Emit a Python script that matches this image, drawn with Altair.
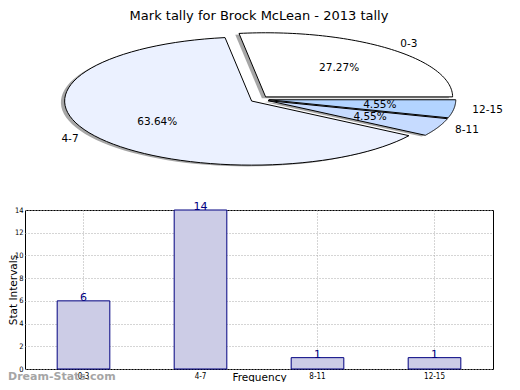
import altair as alt
import pandas as pd

# ---- data ----
categories = ["0-3", "4-7", "8-11", "12-15"]
counts = [6, 14, 1, 1]
order_idx = [0, 1, 2, 3]
pie_colors = ["#ffffff", "#ebf1ff", "#c6dbff", "#b3d4ff"]
y_ticks = [0, 2, 4, 6, 8, 10, 12, 14]
title_text = "Mark tally for Brock McLean - 2013 tally"
watermark = ["Dream-Stats.com"]

df = pd.DataFrame({"cat": categories, "count": counts, "idx": order_idx})

FONT = "DejaVu Sans"
NARROW = "Liberation Sans Narrow, DejaVu Sans Condensed, DejaVu Sans"
N = 72          # points along each arc
EXPLODE = 0.05
SHADOW = 0.02

# pie scales (ellipse: data-space unit circle stretched by the scales)
xs_pie = alt.Scale(domain=[-1.254, 1.2487], nice=False, zero=False)
ys_pie = alt.Scale(domain=[-4.2075, -1.727], nice=False, zero=False)

base = (
    alt.Chart(df)
    .transform_joinaggregate(total="sum(count)")
    .transform_window(cum="sum(count)", sort=[alt.SortField("idx")], frame=[None, 0])
    .transform_calculate(
        a0="2*PI*(datum.cum - datum.count)/datum.total",
        a1="2*PI*datum.cum/datum.total",
    )
    .transform_calculate(am="(datum.a0 + datum.a1)/2")
    .transform_calculate(
        ex=f"{EXPLODE}*cos(datum.am)",
        ey=f"{EXPLODE}*sin(datum.am)",
        pct="format(datum.count/datum.total, '.2%')",
    )
)

poly = (
    base.transform_calculate(k=f"sequence(0, {N + 3})")
    .transform_flatten(["k"])
    .transform_calculate(
        t=f"datum.a0 + (datum.a1 - datum.a0)*(datum.k - 1)/{N}",
        edge=f"(datum.k > 0 && datum.k < {N + 2}) ? 1 : 0",
    )
    .transform_calculate(
        px="datum.ex + datum.edge*cos(datum.t)",
        py="datum.ey + datum.edge*sin(datum.t)",
    )
)

shadow = poly.transform_calculate(
    sx=f"datum.px - {SHADOW}", sy=f"datum.py - {SHADOW}"
).mark_line(fill="#4d4d4d", fillOpacity=0.5, strokeOpacity=0, strokeWidth=0).encode(
    x=alt.X("sx:Q", scale=xs_pie, axis=None),
    y=alt.Y("sy:Q", scale=ys_pie, axis=None),
    order="k:Q",
    detail="cat:N",
)

slices = poly.mark_line(stroke="black", strokeWidth=1, strokeJoin="miter").encode(
    x=alt.X("px:Q", scale=xs_pie, axis=None),
    y=alt.Y("py:Q", scale=ys_pie, axis=None),
    order="k:Q",
    detail="cat:N",
    fill=alt.Fill("cat:N", scale=alt.Scale(domain=categories, range=pie_colors), legend=None),
)

pct = base.transform_calculate(
    lx="datum.ex + 0.6*cos(datum.am)", ly="datum.ey + 0.6*sin(datum.am)"
).mark_text(font=FONT, fontSize=10.5, color="black", baseline="middle", align="center").encode(
    x=alt.X("lx:Q", scale=xs_pie, axis=None),
    y=alt.Y("ly:Q", scale=ys_pie, axis=None),
    text="pct:N",
)

labs = base.transform_calculate(
    lx="datum.ex + 1.1*cos(datum.am)", ly="datum.ey + 1.1*sin(datum.am)", c="cos(datum.am)"
)
lab_r = labs.transform_filter("datum.c >= 0").mark_text(
    font=FONT, fontSize=10.5, color="black", baseline="middle", align="left"
).encode(
    x=alt.X("lx:Q", scale=xs_pie, axis=None),
    y=alt.Y("ly:Q", scale=ys_pie, axis=None),
    text="cat:N",
)
lab_l = labs.transform_filter("datum.c < 0").mark_text(
    font=FONT, fontSize=10.5, color="black", baseline="middle", align="right"
).encode(
    x=alt.X("lx:Q", scale=xs_pie, axis=None),
    y=alt.Y("ly:Q", scale=ys_pie, axis=None),
    text="cat:N",
)

pie = alt.layer(shadow, slices, pct, lab_r, lab_l)

# ---- bar chart ----
xband = alt.Scale(domain=categories, paddingInner=0.55, paddingOuter=0.275)
yscale = alt.Scale(domain=[0, 14], nice=False, zero=True)

bar_base = alt.Chart(df)
bars = bar_base.mark_bar(fill="#ccccE6", stroke="#000080", strokeWidth=1).encode(
    x=alt.X(
        "cat:N",
        scale=xband,
        sort=categories,
        axis=alt.Axis(
            title="Frequency",
            labelAngle=0,
            grid=True,
            gridDash=[1, 2],
            gridColor="#aaaaaa",
            ticks=False,
            tickSize=0,
            domain=False,
            labelFont=NARROW,
            labelFontSize=8,
            labelPadding=3,
            labelColor="black",
            labelOverlap=False,
            titleFont=FONT,
            titleFontSize=10.5,
            titleFontWeight="normal",
            titleColor="black",
            titleBaseline="alphabetic",
            titleX=234,
            titleY=11.5,
        ),
    ),
    y=alt.Y(
        "count:Q",
        scale=yscale,
        axis=alt.Axis(
            title="Stat Intervals",
            values=y_ticks,
            tickCount=len(y_ticks),
            grid=True,
            gridDash=[1, 2],
            gridColor="#aaaaaa",
            ticks=False,
            tickSize=0,
            domain=False,
            labelFont=NARROW,
            labelFontSize=7.5,
            labelPadding=2,
            labelColor="black",
            labelOverlap=False,
            titleFont=FONT,
            titleFontSize=10.5,
            titleFontWeight="normal",
            titleColor="black",
            titleAngle=270,
            titleBaseline="alphabetic",
            titleX=-8.8,
            titleY=79.5,
        ),
    ),
)
bar_text = bar_base.mark_text(
    font=FONT, fontSize=11, color="#000080", baseline="alphabetic", align="center"
).encode(
    x=alt.X("cat:N", scale=xband, sort=categories),
    y=alt.Y("count:Q", scale=yscale),
    text="count:Q",
)
wm = alt.Chart(pd.DataFrame({"w": watermark})).mark_text(
    font=FONT, fontSize=11, fontWeight="bold", color="#888888", opacity=0.75,
    align="left", baseline="middle",
).encode(x=alt.value(-17), y=alt.value(166.5), text="w:N")

bar = alt.layer(bars, bar_text, wm)

chart = (
    alt.layer(pie, bar)
    .resolve_scale(x="independent", y="independent", fill="independent")
    .resolve_axis(x="independent", y="independent")
    .properties(
        width=468,
        height=159,
        padding={"left": 17, "top": 202, "right": 19, "bottom": 13},
        autosize=alt.AutoSizeParams(type="none"),
        title=alt.Title(
            title_text, font=FONT, fontSize=13, fontWeight="normal",
            color="black", anchor="middle", offset=8,
        ),
    )
    .configure_view(stroke="black", strokeWidth=1)
)

chart.save("out.html", embed_options={"renderer": "svg", "actions": False})
